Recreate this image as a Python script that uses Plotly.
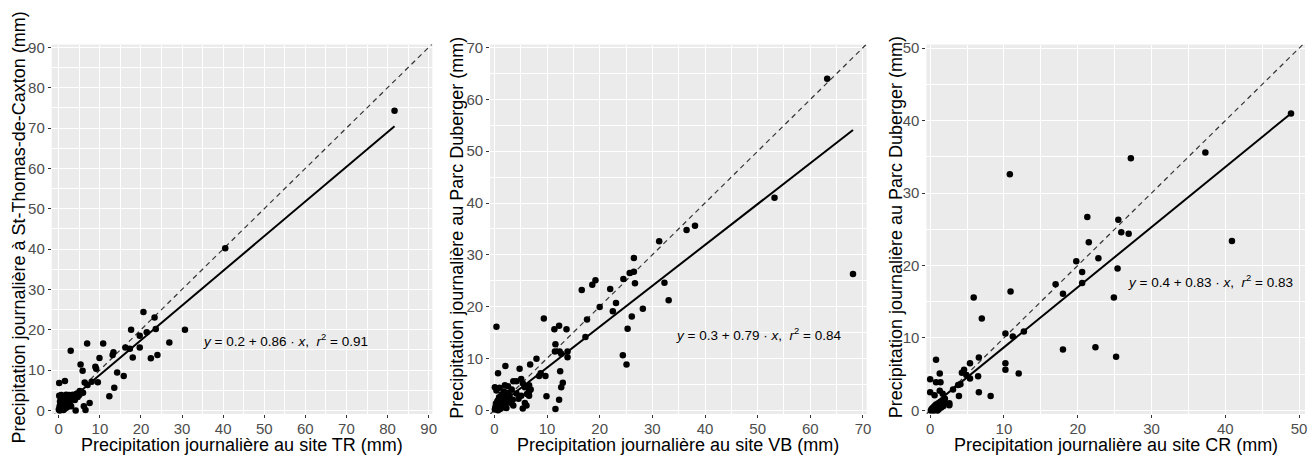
import plotly.graph_objects as go

# ---------------- data ----------------
tr_x = [81.7, 40.5, 20.6, 23.3, 17.6, 23.6, 30.7, 21.4, 19.7, 26.9, 16.2, 17.3, 19.7, 18.0, 22.4, 24.0,
        6.9, 10.8, 2.9, 13.3, 13.1, 9.9, 5.3, 8.9, 9.1, 5.8, 14.2, 15.8, 9.5, 0.1, 1.5, 6.3, 7.0,
        13.5, 5.1, 5.9, 12.3, 7.5, 6.1, 6.5, 4.1, 8.0,
        0.0, 0.2, 0.3, 0.5, 0.6, 0.8, 0.9, 1.0, 1.2, 1.3, 1.5, 1.6, 1.8, 2.0, 2.1, 2.3, 2.5, 2.7,
        2.9, 3.1, 3.4, 3.6, 3.9, 4.2, 4.6, 0.1, 0.4, 1.1, 1.7, 2.4, 0.7, 1.4, 3.0, 0.2, 5.0, 4.4]
tr_y = [74.3, 40.2, 24.4, 23.0, 20.0, 20.2, 20.0, 19.4, 18.5, 16.8, 15.6, 15.3, 15.6, 13.1, 12.9, 13.7,
        16.6, 16.6, 14.8, 14.4, 13.7, 13.0, 11.4, 10.8, 10.3, 9.8, 9.4, 8.5, 7.0, 6.8, 7.3, 6.9, 6.3,
        5.6, 4.8, 4.4, 3.5, 1.8, 1.0, 0.1, 0.0, 7.1,
        0.2, 1.0, 2.2, 3.0, 3.8, 0.5, 1.8, 2.8, 3.5, 0.3, 1.2, 2.4, 3.9, 0.8, 1.9, 3.1, 3.8, 1.5,
        2.7, 3.4, 3.9, 3.2, 2.6, 3.6, 3.3, 3.6, 1.4, 0.1, 0.6, 2.3, 2.6, 3.0, 1.0, 0.0, 3.8, 4.2]

vb_x = [63.2, 53.2, 68.1, 31.3, 36.5, 38.1, 26.5, 25.7, 26.5, 26.7, 24.5, 32.3, 19.2, 18.6, 16.6, 22.0,
        23.1, 20.0, 22.5, 28.2, 33.1, 26.1, 17.6, 25.3, 17.3, 9.4, 0.4, 11.4, 12.3, 13.7, 11.6, 11.5,
        12.4, 12.7, 13.9, 13.9, 24.4, 25.1, 8.0, 6.8, 2.1, 0.7, 4.8, 8.5, 8.8, 9.7, 12.5, 13.0, 12.7,
        12.3, 9.9, 11.6, 5.4, 6.1, 6.6, 6.9, 5.8, 3.6, 4.2, 5.1, 6.6, 5.4, 6.2, 4.6, 5.1, 4.2, 3.6,
        2.0, 0.1, 5.8, 6.6,
        0.1, 0.2, 0.3, 0.5, 0.6, 0.8, 0.9, 1.1, 1.2, 1.4, 1.5, 1.7, 1.8, 2.0, 2.2, 2.3, 2.5, 2.7,
        2.9, 3.1, 3.3, 0.4, 1.0, 2.6, 1.3, 0.7, 1.9, 3.5]
vb_y = [64.0, 41.0, 26.3, 32.6, 34.8, 35.6, 29.4, 26.5, 26.7, 24.5, 25.3, 24.6, 25.1, 24.2, 23.2, 23.4,
        20.7, 19.9, 19.1, 19.6, 21.2, 18.1, 17.5, 15.7, 14.1, 17.7, 16.1, 15.6, 16.3, 15.6, 12.7, 11.3,
        11.3, 10.9, 11.3, 10.2, 10.6, 8.8, 9.9, 8.8, 8.5, 7.1, 8.0, 6.6, 7.1, 6.6, 7.5, 5.3, 4.4,
        2.0, 2.7, 0.2, 0.3, 0.9, 2.8, 4.0, 4.4, 5.6, 5.6, 6.0, 4.8, 5.2, 3.1, 2.2, 2.8, 3.2, 0.9,
        4.8, 4.4, 1.4, 3.6,
        0.1, 0.6, 1.3, 0.3, 1.8, 0.9, 2.5, 0.2, 1.5, 3.0, 0.7, 2.1, 3.6, 1.1, 2.7, 0.4, 1.8, 3.3,
        2.4, 1.4, 4.0, 3.8, 4.3, 4.6, 2.8, 0.0, 0.5, 2.0]

cr_x = [48.9, 37.3, 27.2, 10.8, 21.3, 25.5, 25.9, 26.9, 21.5, 40.9, 22.8, 19.8, 25.4, 20.6, 20.6, 17.0,
        18.0, 10.9, 5.9, 24.9, 7.0, 12.7, 11.2, 10.2, 18.0, 22.4, 25.2, 6.6, 0.8, 10.2, 10.2, 12.0,
        5.4, 4.6, 4.3, 6.5, 5.4, 4.9, 6.6, 8.2, 3.9, 4.1, 3.1, 0.0, 0.0, 0.8, 1.3, 1.4, 1.3, 0.6, 1.7,
        2.6, 2.6, 3.8,
        0.1, 0.2, 0.3, 0.4, 0.5, 0.6, 0.7, 0.8, 0.9, 1.0, 1.1, 1.2, 1.3, 1.4, 1.5, 1.6, 1.7, 1.8,
        0.5, 1.0, 1.9, 2.0]
cr_y = [41.0, 35.6, 34.8, 32.6, 26.7, 26.3, 24.6, 24.4, 23.2, 23.4, 21.0, 20.6, 19.6, 19.1, 17.6, 17.4,
        16.1, 16.4, 15.6, 15.6, 12.7, 10.9, 10.2, 10.6, 8.4, 8.7, 7.4, 7.3, 7.0, 6.5, 5.6, 5.1,
        6.5, 5.6, 5.2, 4.7, 4.4, 4.9, 2.5, 2.0, 2.0, 3.6, 2.9, 4.3, 2.5, 3.9, 5.1, 3.9, 2.7, 2.1, 2.3,
        0.7, 1.0, 3.5,
        0.0, 0.2, 0.1, 0.4, 0.2, 0.6, 0.1, 0.8, 0.3, 0.5, 1.0, 0.2, 0.7, 1.2, 0.4, 0.9, 1.4, 0.6,
        0.0, 0.0, 1.1, 1.6]

intercepts = [0.2, 0.3, 0.4]
slopes = [0.86, 0.79, 0.83]
r2 = [0.91, 0.84, 0.83]

x_titles = ["Precipitation journalière au site TR (mm)",
            "Precipitation journalière au site VB (mm)",
            "Precipitation journalière au site CR (mm)"]
y_titles = ["Precipitation journalière à St-Thomas-de-Caxton (mm)",
            "Precipitation journalière au Parc Duberger (mm)",
            "Precipitation journalière au Parc Duberger (mm)"]

x_ranges = [[-1.7, 90.9], [-0.8, 70.7], [-0.5, 50.8]]
y_ranges = [[-0.9, 90.7], [-0.75, 70.6], [-0.5, 50.5]]
label_pos = [[34.6, 17.4], [34.1, 14.7], [26.5, 17.9]]

# ---------------- layout geometry (pixels) ----------------
W, H = 1312, 460
px_x = [[52, 434], [492, 870], [930, 1310]]
px_y = [39.5, 418.0]

FONT = "Liberation Sans, Arial, sans-serif"
fig = go.Figure()

datasets = [(tr_x, tr_y), (vb_x, vb_y), (cr_x, cr_y)]
annotations = []
for i, (xs, ys) in enumerate(datasets):
    xa = "x" if i == 0 else f"x{i+1}"
    ya = "y" if i == 0 else f"y{i+1}"
    # identity dashed line
    fig.add_trace(go.Scatter(x=[x_ranges[i][0], x_ranges[i][1]], y=[x_ranges[i][0], x_ranges[i][1]],
                             mode="lines", line=dict(color="#333333", width=1.2, dash="5px,4px"),
                             xaxis=xa, yaxis=ya, showlegend=False, hoverinfo="skip"))
    # regression line
    xmin, xmax = min(xs), max(xs)
    fig.add_trace(go.Scatter(x=[xmin, xmax],
                             y=[intercepts[i] + slopes[i] * xmin, intercepts[i] + slopes[i] * xmax],
                             mode="lines", line=dict(color="black", width=2),
                             xaxis=xa, yaxis=ya, showlegend=False, hoverinfo="skip"))
    # points
    fig.add_trace(go.Scatter(x=xs, y=ys, mode="markers",
                             marker=dict(color="black", size=6.5),
                             xaxis=xa, yaxis=ya, showlegend=False))

    axis_common = dict(showgrid=True, gridcolor="white", gridwidth=1.2, zeroline=False,
                       ticks="outside", ticklen=3, tickwidth=1, tickcolor="#333333",
                       tickfont=dict(family=FONT, size=15, color="#4d4d4d"),
                       showline=False, dtick=10, tick0=0,
                       minor=dict(showgrid=True, gridcolor="white", gridwidth=0.6, dtick=5, tick0=0))
    xdom = [px_x[i][0] / W, px_x[i][1] / W]
    ydom = [(H - px_y[1]) / H, (H - px_y[0]) / H]
    fig.layout[("xaxis" if i == 0 else f"xaxis{i+1}")] = dict(
        domain=xdom, range=x_ranges[i], anchor=ya, ticklabelstandoff=-2, **axis_common)
    fig.layout[("yaxis" if i == 0 else f"yaxis{i+1}")] = dict(
        domain=ydom, range=y_ranges[i], anchor=xa, **axis_common)

    annotations.append(dict(
        x=label_pos[i][0], y=label_pos[i][1], xref=xa, yref=ya, xanchor="left", yanchor="middle",
        text=f"<i>y</i> = {intercepts[i]} + {slopes[i]} · <i>x</i>,  <i>r</i><sup>2</sup> = {r2[i]}",
        showarrow=False, font=dict(family=FONT, size=13.5, color="black")))
    # x title
    annotations.append(dict(
        x=(px_x[i][0] + px_x[i][1]) / 2 / W, y=(H - 450) / H, xref="paper", yref="paper",
        xanchor="center", yanchor="middle", text=x_titles[i], showarrow=False,
        font=dict(family=FONT, size=18, color="black")))

y_title_x = [19, 458, 899]
for i in range(3):
    annotations.append(dict(
        x=y_title_x[i] / W, y=(H - 227) / H, xref="paper", yref="paper",
        xanchor="center", yanchor="middle", textangle=-90, text=y_titles[i], showarrow=False,
        font=dict(family=FONT, size=18, color="black")))

fig.update_layout(width=W, height=H, margin=dict(l=0, r=0, t=0, b=0),
                  paper_bgcolor="white", plot_bgcolor="#ebebeb",
                  annotations=annotations, font=dict(family=FONT))
fig.write_html("out.html", include_plotlyjs=True, config={"displayModeBar": False})
